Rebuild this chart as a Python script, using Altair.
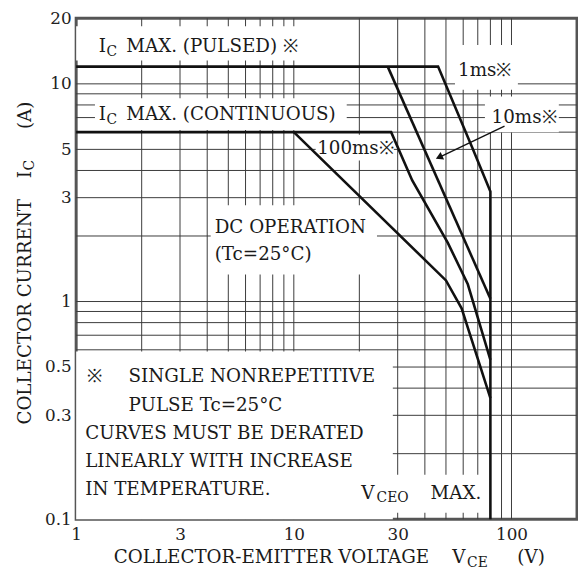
import altair as alt
import pandas as pd

# ---------------- axis ticks & grid ----------------
x_ticks = [1, 3, 10, 30, 100]
y_ticks = [0.1, 0.3, 0.5, 1, 3, 5, 10, 20]
x_grid = [2, 3, 4, 5, 6, 7, 8, 9, 10, 20, 30, 40, 50, 60, 70, 80, 90, 100]
y_grid = [0.2, 0.3, 0.4, 0.5, 0.6, 0.7, 0.8, 0.9, 1, 2, 3, 4, 5, 6, 7, 8, 9, 10]

# ---------------- SOA curves (VCE [V], IC [A]) ----------------
ms1_v = [1, 46, 66, 80, 80]
ms1_i = [12, 12, 5.1, 3.2, 0.1]
ms10_v = [27, 80]
ms10_i = [12, 1.03]
ms100_v = [1, 28, 35, 51, 63, 80]
ms100_i = [6, 6, 3.6, 1.86, 1.2, 0.54]
dc_v = [10, 50, 59, 80]
dc_i = [6, 1.25, 0.93, 0.36]

# arrow pointing at the 10ms curve
arrow_v = [92.9, 46.5]
arrow_i = [6.4, 4.6]

# blank areas behind the annotations (data units)
mask_x1 = [1, 55, 1.22, 75.5, 12.6, 4.15, 1, 19.4]
mask_x2 = [12.5, 107, 17.5, 165, 28.8, 24.1, 28.5, 73]
mask_y1 = [12.8, 9.4, 6.14, 6.0, 4.44, 1.33, 0.1, 0.107]
mask_y2 = [18.4, 15.1, 8.58, 8.75, 5.83, 2.77, 0.59, 0.16]

# annotations
main_text = ["I", "MAX. (PULSED) ※", "I", "MAX. (CONTINUOUS)", "1ms※", "10ms※",
             "100ms※", "DC OPERATION", "(Tc=25°C)", "※", "SINGLE NONREPETITIVE",
             "PULSE Tc=25°C", "CURVES MUST BE DERATED", "LINEARLY WITH INCREASE",
             "IN TEMPERATURE.", "V", "MAX."]
main_x = [1.27, 1.70, 1.27, 1.70, 56.8, 81, 12.8, 4.33, 4.33, 1.12, 1.74,
          1.74, 1.10, 1.10, 1.10, 20.4, 42.5]
main_y = [14.9, 14.9, 7.29, 7.29, 11.55, 7.0, 5.09, 2.19, 1.65, 0.455, 0.455,
          0.336, 0.248, 0.185, 0.138, 0.1325, 0.1325]
sub_text = ["C", "C", "CEO"]
sub_x = [1.38, 1.38, 24.0]
sub_y = [14.9, 7.29, 0.1325]

xtitle_text = ["COLLECTOR-EMITTER VOLTAGE", "V", "(V)"]
xtitle_x = [1.49, 53.4, 106.4]
xtitle_sub_text = ["CE"]
xtitle_sub_x = [62.5]

ytitle_text = ["COLLECTOR CURRENT", "I", "(A)"]
ytitle_y = [0.272, 3.68, 6.2]
ytitle_sub_text = ["C"]
ytitle_sub_y = [4.0]
ytitle_x = 0.58

# ---------------- build ----------------
FONT = "DejaVu Serif"
TXT = "#1a1a1a"
xs = alt.Scale(type="log", domain=[1, 200], nice=False)
ys = alt.Scale(type="log", domain=[0.1, 20], nice=False)
xaxis = alt.Axis(values=x_ticks, format="~g", title=None, grid=False, ticks=False,
                 domain=False, labelFlush=False, labelOverlap=False, labelPadding=8)
yaxis = alt.Axis(values=y_ticks, format="~g", title=None, grid=False, ticks=False,
                 domain=False, labelFlush=False, labelOverlap=False, labelPadding=5)


def X(f):
    return alt.X(f, scale=xs, axis=xaxis)


def Y(f):
    return alt.Y(f, scale=ys, axis=yaxis)


vgrid = alt.Chart(pd.DataFrame({"v": x_grid})).mark_rule(
    color="#3a3a3a", strokeWidth=1).encode(x=X("v:Q"))
hgrid = alt.Chart(pd.DataFrame({"i": y_grid})).mark_rule(
    color="#3a3a3a", strokeWidth=1).encode(y=Y("i:Q"))

masks = alt.Chart(pd.DataFrame({"x1": mask_x1, "x2": mask_x2, "y1": mask_y1, "y2": mask_y2})
                  ).mark_rect(fill="white", strokeWidth=0).encode(
    x=X("x1:Q"), x2="x2:Q", y=Y("y1:Q"), y2="y2:Q")

rows = []
for name, vv, ii in [("1ms", ms1_v, ms1_i), ("10ms", ms10_v, ms10_i),
                     ("100ms", ms100_v, ms100_i), ("DC", dc_v, dc_i)]:
    for k, (a, b) in enumerate(zip(vv, ii)):
        rows.append({"series": name, "ord": k, "v": a, "i": b})
curves_df = pd.DataFrame(rows)
curves = alt.Chart(curves_df).mark_line(color="#111", strokeWidth=2.6).encode(
    x=X("v:Q"), y=Y("i:Q"), detail="series:N", order="ord:Q")

arrow_df = pd.DataFrame({"v": arrow_v, "i": arrow_i, "ord": [0, 1]})
arrow_line = alt.Chart(arrow_df).mark_line(color="#111", strokeWidth=1.4).encode(
    x=X("v:Q"), y=Y("i:Q"), order="ord:Q")
arrow_head = alt.Chart(arrow_df.iloc[[1]]).mark_point(
    shape="triangle-up", filled=True, size=70, angle=245, color="#111", opacity=1).encode(
    x=X("v:Q"), y=Y("i:Q"))

main = alt.Chart(pd.DataFrame({"t": main_text, "v": main_x, "i": main_y})).mark_text(
    font=FONT, fontSize=18.5, align="left", baseline="middle", color=TXT).encode(
    x=X("v:Q"), y=Y("i:Q"), text="t:N")
subs = alt.Chart(pd.DataFrame({"t": sub_text, "v": sub_x, "i": sub_y})).mark_text(
    font=FONT, fontSize=14, align="left", baseline="middle", dy=6, color=TXT).encode(
    x=X("v:Q"), y=Y("i:Q"), text="t:N")

xt = alt.Chart(pd.DataFrame({"t": xtitle_text, "v": xtitle_x, "i": [0.1] * len(xtitle_text)})
               ).mark_text(font=FONT, fontSize=18.5, align="left", baseline="middle",
                           dy=38, color=TXT).encode(x=X("v:Q"), y=Y("i:Q"), text="t:N")
xts = alt.Chart(pd.DataFrame({"t": xtitle_sub_text, "v": xtitle_sub_x, "i": [0.1]})
                ).mark_text(font=FONT, fontSize=14, align="left", baseline="middle",
                            dy=44, color=TXT).encode(x=X("v:Q"), y=Y("i:Q"), text="t:N")

yt = alt.Chart(pd.DataFrame({"t": ytitle_text, "v": [ytitle_x] * 3, "i": ytitle_y})
               ).mark_text(font=FONT, fontSize=18.5, align="left", baseline="middle",
                           angle=270, color=TXT).encode(x=X("v:Q"), y=Y("i:Q"), text="t:N")
yts = alt.Chart(pd.DataFrame({"t": ytitle_sub_text, "v": [ytitle_x], "i": ytitle_sub_y})
                ).mark_text(font=FONT, fontSize=14, align="left", baseline="middle",
                            angle=270, dy=5, color=TXT).encode(x=X("v:Q"), y=Y("i:Q"), text="t:N")

chart = alt.layer(vgrid, hgrid, masks, curves, arrow_line, arrow_head,
                  main, subs, xt, xts, yt, yts).properties(
    width=507, height=507,
    autosize=alt.AutoSizeParams(type="none"),
    padding={"left": 69, "top": 7, "right": 1, "bottom": 49},
).configure_view(stroke="#555", strokeWidth=3).configure_axis(
    labelFont=FONT, labelFontSize=17, labelColor="#222")

chart.save("out.html", embed_options={"renderer": "svg", "actions": False})
